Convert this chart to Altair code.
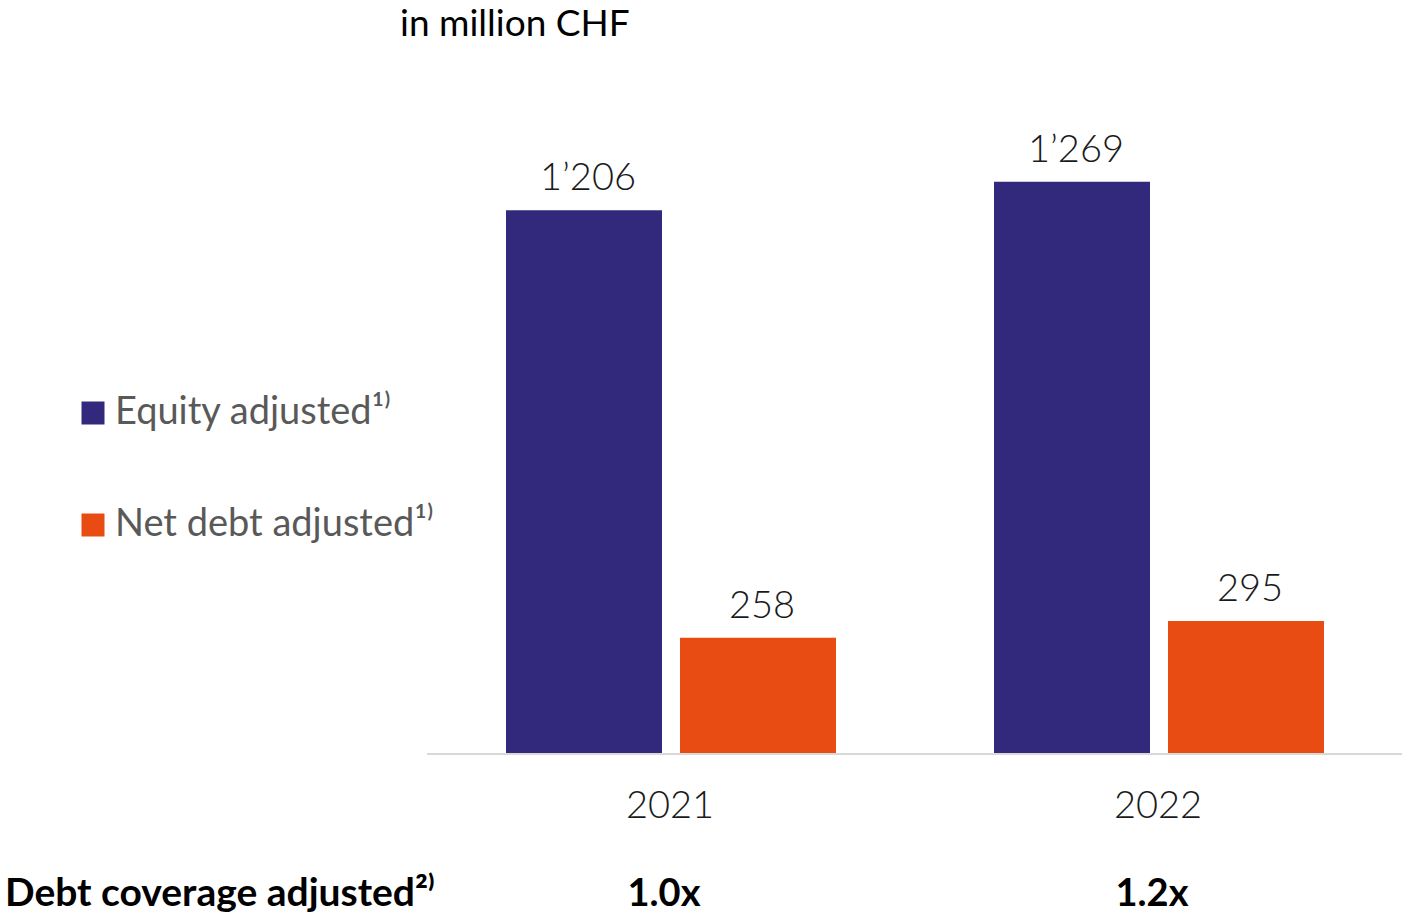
import altair as alt
import pandas as pd

# Chart values
years = ["2021", "2022"]
equity_adjusted = [1206, 1269]
net_debt_adjusted = [258, 295]
debt_coverage = ["1.0x", "1.2x"]

series_names = ["Equity adjusted", "Net debt adjusted"]
series_colors = ["#32297C", "#E84C13"]

unit_title = "in million CHF"
coverage_title = "Debt coverage adjusted\u00b2\u207e"
series_footnote = "\u00b9\u207e"


def swiss(v):
    return f"{v:,}".replace(",", "\u2019")


rows = []
for i, y in enumerate(years):
    rows.append({"year": y, "series": series_names[0], "value": equity_adjusted[i],
                 "coverage": debt_coverage[i]})
    rows.append({"year": y, "series": series_names[1], "value": net_debt_adjusted[i],
                 "coverage": debt_coverage[i]})
bars_df = pd.DataFrame(rows)
bars_df["label"] = bars_df["value"].map(swiss)

x_scale = alt.Scale(domain=years, range=[427, 1403], paddingInner=0, paddingOuter=0)
y_scale = alt.Scale(domain=[0, 1672], range=[754, 0], nice=False, zero=True)
color_scale = alt.Scale(domain=series_names, range=series_colors)

legend = alt.Legend(
    title=None,
    orient="none",
    legendX=74,
    legendY=394,
    symbolType="square",
    symbolSize=529,
    symbolStrokeWidth=0,
    symbolOpacity=1,
    labelFont="Lato",
    labelFontSize=38,
    labelColor="#595959",
    labelOffset=3,
    rowPadding=74,
    labelLimit=600,
    labelExpr=f"datum.label + '{series_footnote}'",
)

base = alt.Chart(bars_df)

# Two bars per year: equity left of the year centre, net debt right of it
BAR_W = 156
SHIFT = 87


def bar_layer(name, shift):
    sel = base.transform_filter(alt.datum.series == name)
    bar = sel.mark_bar(width=BAR_W, xOffset=shift).encode(
        x=alt.X("year:N", scale=x_scale, axis=None),
        y=alt.Y("value:Q", scale=y_scale, axis=None),
        color=alt.Color("series:N", scale=color_scale, sort=series_names, legend=legend),
    )
    lab = sel.mark_text(
        font="Lato", fontWeight=300, fontSize=38, color="#1a1a1a",
        baseline="alphabetic", dx=shift + 4, dy=-20,
    ).encode(
        x=alt.X("year:N", scale=x_scale),
        y=alt.Y("value:Q", scale=y_scale),
        text="label:N",
    )
    return bar, lab


eq_bar, eq_lab = bar_layer(series_names[0], -SHIFT)
nd_bar, nd_lab = bar_layer(series_names[1], SHIFT)

# One row per year, anchored on the zero line of the value scale
per_year = base.transform_filter(alt.datum.series == series_names[0]).transform_calculate(zero="0")
first_year = per_year.transform_filter(alt.datum.year == years[0])

x_year = alt.X("year:N", scale=x_scale)
y_zero = alt.Y("zero:Q", scale=y_scale)

baseline_line = per_year.mark_tick(size=488, thickness=2, color="#d9d9d9", opacity=1).encode(
    x=x_year, y=y_zero
)

year_labels = per_year.mark_text(
    font="Lato", fontWeight=300, fontSize=38, color="#1a1a1a", baseline="alphabetic", dx=-1, dy=64
).encode(x=x_year, y=y_zero, text="year:N")

coverage_labels = per_year.mark_text(
    font="Lato", fontWeight="bold", fontSize=38, color="#000000", baseline="alphabetic", dx=-7, dy=152
).encode(x=x_year, y=y_zero, text="coverage:N")

title_text = first_year.mark_text(
    font="Lato", fontSize=37, color="#000000", align="left", baseline="alphabetic", dx=-271, dy=-718
).encode(x=x_year, y=y_zero, text=alt.value(unit_title))

coverage_title_text = first_year.mark_text(
    font="Lato", fontWeight="bold", fontSize=39, color="#000000", align="left",
    baseline="alphabetic", dx=-666, dy=152,
).encode(x=x_year, y=y_zero, text=alt.value(coverage_title))

chart = alt.layer(
    eq_bar, nd_bar, baseline_line, eq_lab, nd_lab, year_labels, coverage_labels,
    title_text, coverage_title_text,
).properties(
    width=1402,
    height=914,
    autosize=alt.AutoSizeParams(type="none"),
    padding=0,
).configure_view(strokeWidth=0)

chart.save("out.html", embed_options={"renderer": "svg", "actions": False})
